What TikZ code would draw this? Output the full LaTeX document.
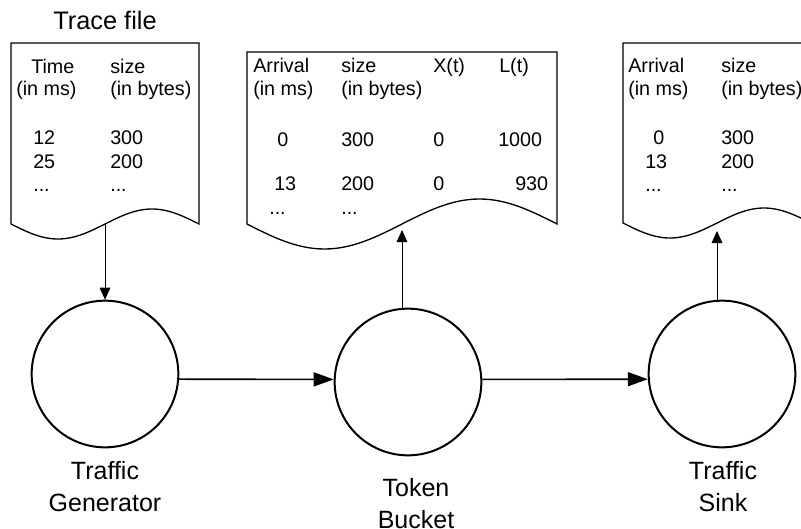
\documentclass[tikz,border=0pt]{standalone}
\usepackage{fontspec}
\setmainfont{Liberation Sans}
\usetikzlibrary{positioning}
\usetikzlibrary{arrows.meta}

\tikzset{
  docline/.style={line width=1pt},
  proc/.style={circle, draw, line width=1.5pt, minimum size=110pt, inner sep=0pt},
  flow/.style={line width=1.2pt, -{Triangle[length=15pt,width=10.5pt]}},
  feed/.style={line width=0.75pt, -{Triangle[length=9pt,width=8pt]}},
  txt/.style={anchor=base west, inner sep=0pt, font=\fontsize{14.8}{17}\selectfont},
  lbl/.style={inner sep=0pt, align=center, font=\fontsize{18.75}{24}\selectfont},
}

\begin{document}
\begin{tikzpicture}[x=0.75pt,y=-0.75pt]
            \useasboundingbox (0,0) rectangle (801,529);
            \clip (0,0) rectangle (801,529);

            % trace file
            \node[anchor=base, inner sep=0pt, font=\fontsize{19}{23}\selectfont] (title) at (105,29) {Trace file};
            \draw[docline] (11,224) sin (58,239) cos (105,224) sin (152,209) cos (199,224) -- (199,43) -- (11,43) -- cycle;
            \coordinate (tracefile) at (105,224);
            \node[txt] (d1a) at (31,73) {Time};
            \node[txt] (d1b) at (16,95) {(in ms)};
            \node[txt] (d1c) at (110,73) {size};
            \node[txt] (d1d) at (110,95) {(in bytes)};
            \node[txt] (d1e) at (33,144) {12};
            \node[txt] (d1f) at (110,144) {300};
            \node[txt] (d1g) at (33,168) {25};
            \node[txt] (d1h) at (110,168) {200};
            \node[txt] (d1i) at (33,191) {...};
            \node[txt] (d1j) at (110,191) {...};

            % bucket output
            \draw[docline] (247,224) sin (324.5,249) cos (402,224) sin (479.5,199) cos (557,224) -- (557,52) -- (247,52) -- cycle;
            \coordinate (bucketfile) at (402,230);
            \node[txt] (d2a) at (253,72) {Arrival};
            \node[txt] (d2b) at (253,95) {(in ms)};
            \node[txt] (d2c) at (341,72) {size};
            \node[txt] (d2d) at (341,95) {(in bytes)};
            \node[txt] (d2e) at (433,72) {X(t)};
            \node[txt] (d2f) at (499,72) {L(t)};
            \node[txt] (d2g) at (277,146) {0};
            \node[txt] (d2h) at (341,146) {300};
            \node[txt] (d2i) at (433,146) {0};
            \node[txt] (d2j) at (498,146) {1000};
            \node[txt] (d2k) at (274,190) {13};
            \node[txt] (d2l) at (341,190) {200};
            \node[txt] (d2m) at (433,190) {0};
            \node[txt] (d2n) at (515,190) {930};
            \node[txt] (d2o) at (269,214) {...};
            \node[txt] (d2p) at (341,214) {...};

            % sink output
            \draw[docline] (623,223) sin (670,238) cos (717,223) sin (764,208) cos (811,223) -- (811,43) -- (623,43) -- cycle;
            \coordinate (sinkfile) at (717,231);
            \node[txt] (d3a) at (628,72) {Arrival};
            \node[txt] (d3b) at (628,95) {(in ms)};
            \node[txt] (d3c) at (721,72) {size};
            \node[txt] (d3d) at (721,95) {(in bytes)};
            \node[txt] (d3e) at (653,144) {0};
            \node[txt] (d3f) at (721,144) {300};
            \node[txt] (d3g) at (645,168) {13};
            \node[txt] (d3h) at (721,168) {200};
            \node[txt] (d3i) at (645,191) {...};
            \node[txt] (d3j) at (721,191) {...};

            % processes
            \node[proc] (gen) at (105,374) {};
            \node[proc] (tb) at (408,382) {};
            \node[proc] (sink) at (722,374) {};
            \node[lbl, below=9.75pt of gen] (genlbl) {Traffic\\Generator};
            \node[lbl, below=16.5pt of tb, xshift=6pt] (tblbl) {Token\\Bucket};
            \node[lbl, below=9.75pt of sink, xshift=0.75pt] (sinklbl) {Traffic\\Sink};

            \draw[feed] (tracefile) -- (gen);
            \draw[feed] (bucketfile |- tb.north) -- (bucketfile);
            \draw[feed] (sinkfile |- sink.north) -- (sinkfile);
            \draw[flow] (gen.-4) -- (tb.178);
            \draw[flow] (tb.2) -- (sink.184);
        \end{tikzpicture}
\end{document}
